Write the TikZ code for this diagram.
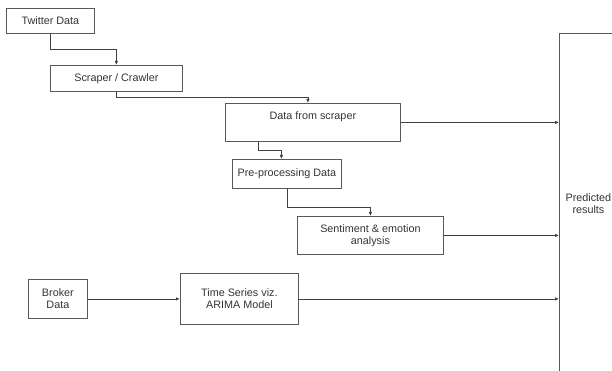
\documentclass[tikz,border=0pt]{standalone}
\usepackage{fontspec}
\setmainfont{Liberation Sans}
\usetikzlibrary{positioning, arrows.meta}

\begin{document}
\begin{tikzpicture}[x=1pt, y=-1pt,
        font=\fontsize{10.8}{12}\selectfont,
        block/.style={draw=black!65, line width=0.8pt, text=black!80, align=center, inner sep=0pt, anchor=north west},
        flow/.style={draw=black!75, line width=0.8pt, -{Latex[length=4pt, width=3.5pt]}}]
        \useasboundingbox (0,0) rectangle (612,371);
        \clip (0,0) rectangle (612,371);
        \node[block, minimum width=88, minimum height=25] (twitter) at (6,8) {Twitter Data};
        \node[block, minimum width=132, minimum height=26] (scraper) at (50,65) {Scraper / Crawler};
        \node[block, minimum width=175, minimum height=38] (dfs) at (225,103) {};
        \node[text=black!80, inner sep=0pt, below=8pt of dfs.north] (dfstext) {Data from scraper};
        \node[block, minimum width=109, minimum height=29] (pre) at (232,159) {Pre-processing Data};
        \node[block, minimum width=146, minimum height=38] (sent) at (297,216) {Sentiment \& emotion\\analysis};
        \node[block, minimum width=59, minimum height=39] (broker) at (28,279) {Broker\\Data};
        \node[block, minimum width=118, minimum height=51] (ts) at (180,273) {Time Series viz.\\ARIMA Model};
        \node[block, minimum width=58, minimum height=340] (pred) at (559,33) {Predicted\\results};
        %--------------------------
        \draw[flow] (twitter.south) -- ++(0,16) -| (scraper.north);
        \draw[flow] (scraper.south) -- ++(0,6) -| ([xshift=-5pt]dfs.north);
        \draw[flow] ([xshift=33pt]dfs.south west) -- ++(0,9) -| ([xshift=-5.5pt]pre.north);
        \draw[flow] (pre.south) -- ++(0,19) -| (sent.north);
        \draw[flow] (dfs.east) -- (dfs.east -| pred.west);
        \draw[flow] (sent.east) -- (sent.east -| pred.west);
        \draw[flow] (broker.east) -- (ts.west);
        \draw[flow] (ts.east) -- (ts.east -| pred.west);
\end{tikzpicture}
\end{document}
